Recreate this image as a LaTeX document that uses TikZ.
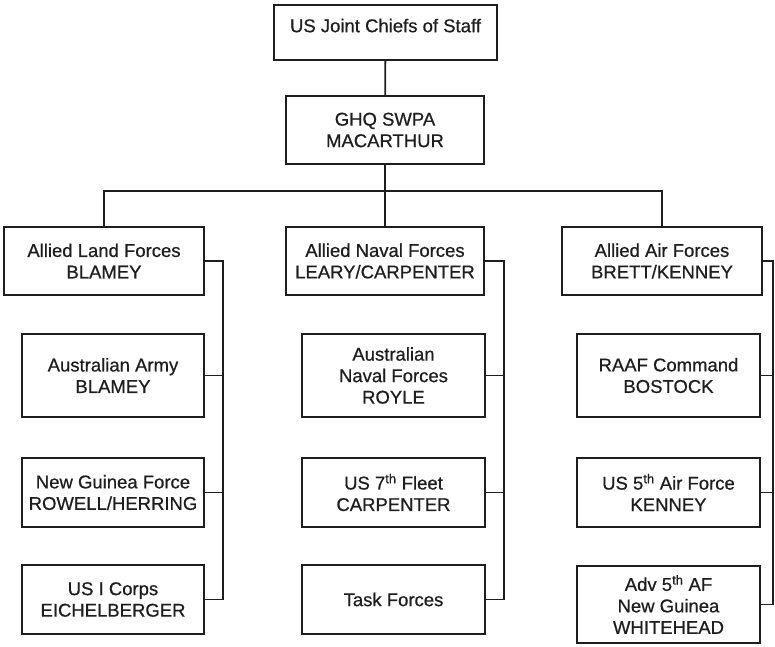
\documentclass[tikz,border=0pt]{standalone}
\usepackage{fontspec}
\setmainfont{Liberation Sans}[FakeBold=0.6]
\definecolor{ink}{HTML}{1E1E1E}
\begin{document}
\begin{tikzpicture}[x=1pt,y=-1pt,
  box/.style={draw=ink, line width=1.8pt, fill=white, align=center, inner sep=0pt,
    font=\fontsize{18.5}{21.5}\selectfont, text=ink},
  link/.style={draw=ink, line width=1.8pt}]
\useasboundingbox (0,0) rectangle (775,646);

% top levels
\node[box, minimum width=223pt, minimum height=55pt] (jcs) at (385.5,32.5) {\raisebox{14pt}{US Joint Chiefs of Staff}};
\node[box, minimum width=198pt, minimum height=68pt] (ghq) at (385,130) {GHQ SWPA\\MACARTHUR};

% second level
\node[box, minimum width=200pt, minimum height=68pt] (land) at (104,261) {Allied Land Forces\\BLAMEY};
\node[box, minimum width=198pt, minimum height=68pt] (naval) at (385,261) {Allied Naval Forces\\LEARY/CARPENTER};
\node[box, minimum width=200pt, minimum height=68pt] (air) at (662,261) {Allied Air Forces\\BRETT/KENNEY};

% land children
\node[box, minimum width=182pt, minimum height=83pt] (army) at (113,375.5) {Australian Army\\BLAMEY};
\node[box, minimum width=182pt, minimum height=69pt] (ngf) at (113,492.5) {New Guinea Force\\ROWELL/HERRING};
\node[box, minimum width=182pt, minimum height=69pt] (corps) at (113,599.5) {US I Corps\\EICHELBERGER};

% naval children
\node[box, minimum width=183pt, minimum height=83pt] (ausnav) at (393.5,375.5) {Australian\\Naval Forces\\ROYLE};
\node[box, minimum width=183pt, minimum height=69pt] (fleet) at (393.5,492.5) {US 7\textsuperscript{th} Fleet\\CARPENTER};
\node[box, minimum width=183pt, minimum height=69pt] (task) at (393.5,599.5) {Task Forces};

% air children
\node[box, minimum width=183pt, minimum height=83pt] (raaf) at (668.5,375.5) {RAAF Command\\BOSTOCK};
\node[box, minimum width=183pt, minimum height=69pt] (usaf) at (668.5,492.5) {US 5\textsuperscript{th} Air Force\\KENNEY};
\node[box, minimum width=183pt, minimum height=77pt] (adv) at (668.5,604.5) {Adv 5\textsuperscript{th} AF\\New Guinea\\WHITEHEAD};

% spines
\coordinate (bar) at (385,191);
\coordinate (lspine) at (223,0);
\coordinate (nspine) at (504,0);
\coordinate (aspine) at (773,0);

% connectors
\draw[link] (jcs) -- (ghq);
\draw[link] (ghq.south) -- (bar);
\draw[link] (land.north) |- (bar) -| (air.north);
\draw[link] (bar) -- (naval.north);

\draw[link] (land.east) -- (land.east -| lspine) -- (corps.east -| lspine) -- (corps.east);
\draw[link] (army.east) -- (army.east -| lspine);
\draw[link] (ngf.east) -- (ngf.east -| lspine);

\draw[link] (naval.east) -- (naval.east -| nspine) -- (task.east -| nspine) -- (task.east);
\draw[link] (ausnav.east) -- (ausnav.east -| nspine);
\draw[link] (fleet.east) -- (fleet.east -| nspine);

\draw[link] (air.east) -- (air.east -| aspine) -- (adv.east -| aspine) -- (adv.east);
\draw[link] (raaf.east) -- (raaf.east -| aspine);
\draw[link] (usaf.east) -- (usaf.east -| aspine);
\end{tikzpicture}
\end{document}
